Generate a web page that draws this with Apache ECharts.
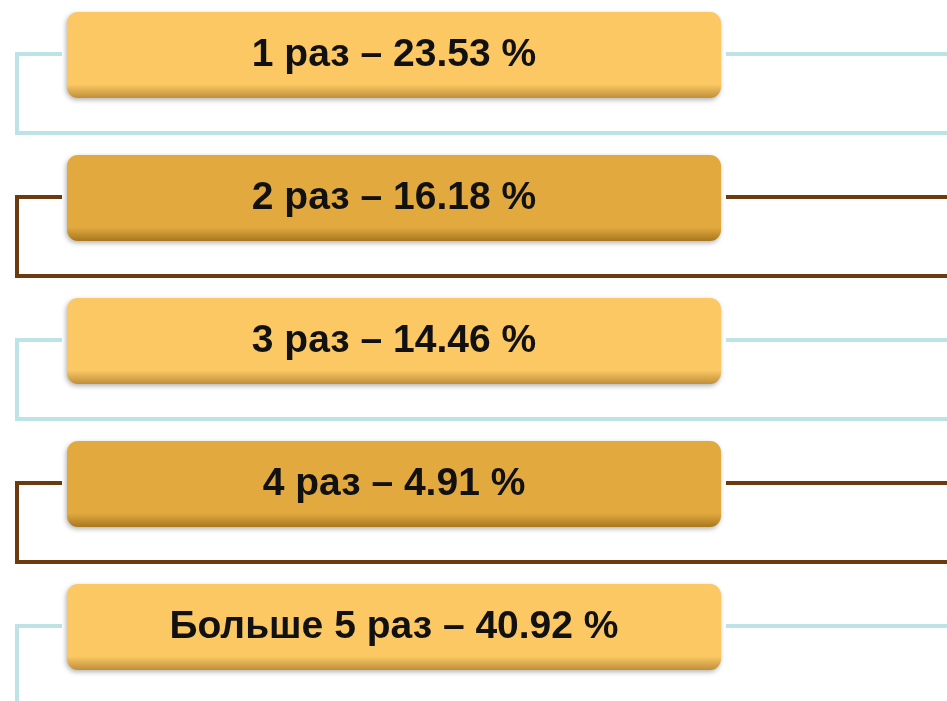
<!DOCTYPE html>
<html>
<head>
<meta charset="utf-8">
<script src="https://cdn.jsdelivr.net/npm/echarts@6/dist/echarts.min.js"></script>
<style>
    html, body { margin: 0; padding: 0; background: #fff; }
</style>
</head>
<body>
<div id="chart" style="width:947px;height:701px;"></div>
<script>
const categories = ['1 раз', '2 раз', '3 раз', '4 раз', 'Больше 5 раз'];
const percents = [23.53, 16.18, 14.46, 4.91, 40.92];

const boxColors = ['#FBC863', '#E2AA3E'];
const lineColors = ['#BDE3E6', '#6B3A0E'];

const chart = echarts.init(document.getElementById('chart'));

function renderItem(params, api) {
    const idx = api.value(0);
    const yc = api.coord([0, idx])[1];
    const odd = idx % 2;
    const fill = boxColors[odd];
    const lineColor = lineColors[odd];
    const boxTop = yc - 42, boxH = 86;

    return {
        type: 'group',
        children: [
            {
                type: 'polyline',
                shape: { points: [[62, yc], [17, yc], [17, yc + 79], [947, yc + 79]] },
                style: { stroke: lineColor, lineWidth: 4, fill: null }
            },
            {
                type: 'line',
                shape: { x1: 726, y1: yc, x2: 947, y2: yc },
                style: { stroke: lineColor, lineWidth: 4 }
            },
            {
                type: 'rect',
                shape: { x: 67, y: boxTop, width: 654, height: boxH, r: 11 },
                style: {
                    fill: new echarts.graphic.LinearGradient(0, 0, 0, 1, [
                        { offset: 0, color: fill },
                        { offset: 0.84, color: fill },
                        { offset: 1, color: odd ? '#A8771F' : '#BF8F3A' }
                    ]),
                    shadowBlur: 5,
                    shadowOffsetX: -1,
                    shadowOffsetY: 2,
                    shadowColor: 'rgba(0,0,0,0.3)'
                }
            },
            {
                type: 'text',
                style: {
                    x: 394,
                    y: yc + 1,
                    text: categories[idx] + ' – ' + api.value(1).toFixed(2) + ' %',
                    font: 'bold 39px "Liberation Sans", Arial, sans-serif',
                    fill: '#111',
                    align: 'center',
                    verticalAlign: 'middle'
                }
            }
        ]
    };
}

const option = {
    backgroundColor: '#fff',
    animation: false,
    grid: { left: 0, right: 0, top: 0, bottom: 0 },
    xAxis: { type: 'value', min: 0, max: 947, show: false },
    yAxis: {
        type: 'value',
        inverse: true,
        min: -0.3776,
        max: 4.5245,
        show: false
    },
    series: [{
        type: 'custom',
        clip: false,
        renderItem: renderItem,
        encode: { y: 0 },
        data: percents.map((v, i) => [i, v])
    }]
};

chart.setOption(option);
</script>
</body>
</html>
